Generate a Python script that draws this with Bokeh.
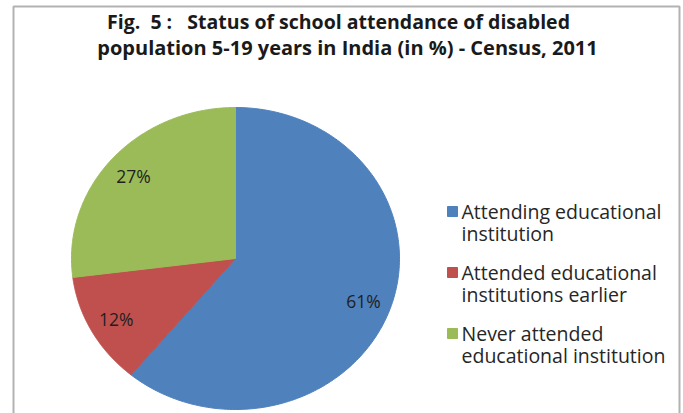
import numpy as np
from bokeh.plotting import figure
from bokeh.models import Range1d, Label, BoxAnnotation, ColumnDataSource
from bokeh.core.properties import value
from bokeh.embed import file_html
from bokeh.resources import INLINE

# ---- data ----
categories = ["Attending educational\ninstitution",
              "Attended educational\ninstitutions earlier",
              "Never attended\neducational institution"]
shares = [61, 12, 27]
pct_labels = ["61%", "12%", "27%"]
colors = ["#4F81BD", "#C0504D", "#9BBB59"]
NB = "\u00a0"
title_lines = ["Fig." + NB * 2 + "5" + NB + ":" + NB * 3 + "Status of school attendance of disabled",
               "population 5-19 years in India (in %) - Census, 2011"]

W, H = 683, 413
p = figure(width=W, height=H, output_backend="svg", toolbar_location=None,
           x_range=Range1d(0, W), y_range=Range1d(H, 0), min_border=0)
p.axis.visible = False
p.grid.visible = False
p.outline_line_color = None
p.background_fill_color = "white"
p.border_fill_color = "white"

FONT = "Open Sans"

# pie geometry (screen-like data space; the original is slightly stretched horizontally)
cx, cy, rx, ry = 235, 258, 164, 151
fr = np.array(shares, dtype=float) / sum(shares)
cum = np.concatenate([[0], np.cumsum(fr)])
xs, ys, lx, ly = [], [], [], []
for i in range(len(shares)):
    a0 = np.pi / 2 - 2 * np.pi * cum[i]
    a1 = np.pi / 2 - 2 * np.pi * cum[i + 1]
    t = np.linspace(a0, a1, 200)
    xs.append(list(np.concatenate([[cx], cx + rx * np.cos(t)])))
    ys.append(list(np.concatenate([[cy], cy - ry * np.sin(t)])))
    am = (a0 + a1) / 2
    lx.append(cx + 0.83 * rx * np.cos(am))
    ly.append(cy - 0.83 * ry * np.sin(am))

for i in range(len(shares)):
    p.patch(xs[i], ys[i], fill_color=colors[i], line_color=colors[i], line_width=1)

src = ColumnDataSource(dict(x=lx, y=ly, t=pct_labels))
p.text("x", "y", text="t", source=src, text_align="center", text_baseline="middle",
       text_font=value(FONT), text_font_size="17.5px", text_color="#1F1F1F")

# legend (square aligned with first text line of each entry)
leg_x, leg_y, item_pitch, line_pitch = 452, 211, 61, 22
sq = ColumnDataSource(dict(x=[leg_x] * len(categories),
                           y=[leg_y + item_pitch * i for i in range(len(categories))],
                           c=colors))
p.scatter("x", "y", source=sq, marker="square", size=10, fill_color="c", line_color="c")
tx, ty, tt = [], [], []
for i, cat in enumerate(categories):
    for j, line in enumerate(cat.split("\n")):
        tx.append(leg_x + 9)
        ty.append(leg_y + item_pitch * i + line_pitch * j)
        tt.append(line)
p.text(tx, ty, text=tt, text_align="left", text_baseline="middle",
       text_font=value(FONT), text_font_size="19.5px", text_color="#262626")

p.add_layout(Label(x=338, y=21, text=title_lines[0], text_align="center", text_baseline="middle",
                   text_font=FONT, text_font_style="bold", text_font_size="19.5px",
                   text_color="#1A1A1A"))
p.add_layout(Label(x=347, y=47, text=title_lines[1], text_align="center", text_baseline="middle",
                   text_font=FONT, text_font_style="bold", text_font_size="20px",
                   text_color="#1A1A1A"))

p.add_layout(BoxAnnotation(left=13, right=679, top=6, bottom=440, fill_alpha=0,
                           line_color="black", line_width=2))

open("out.html", "w").write(file_html(p, INLINE))
